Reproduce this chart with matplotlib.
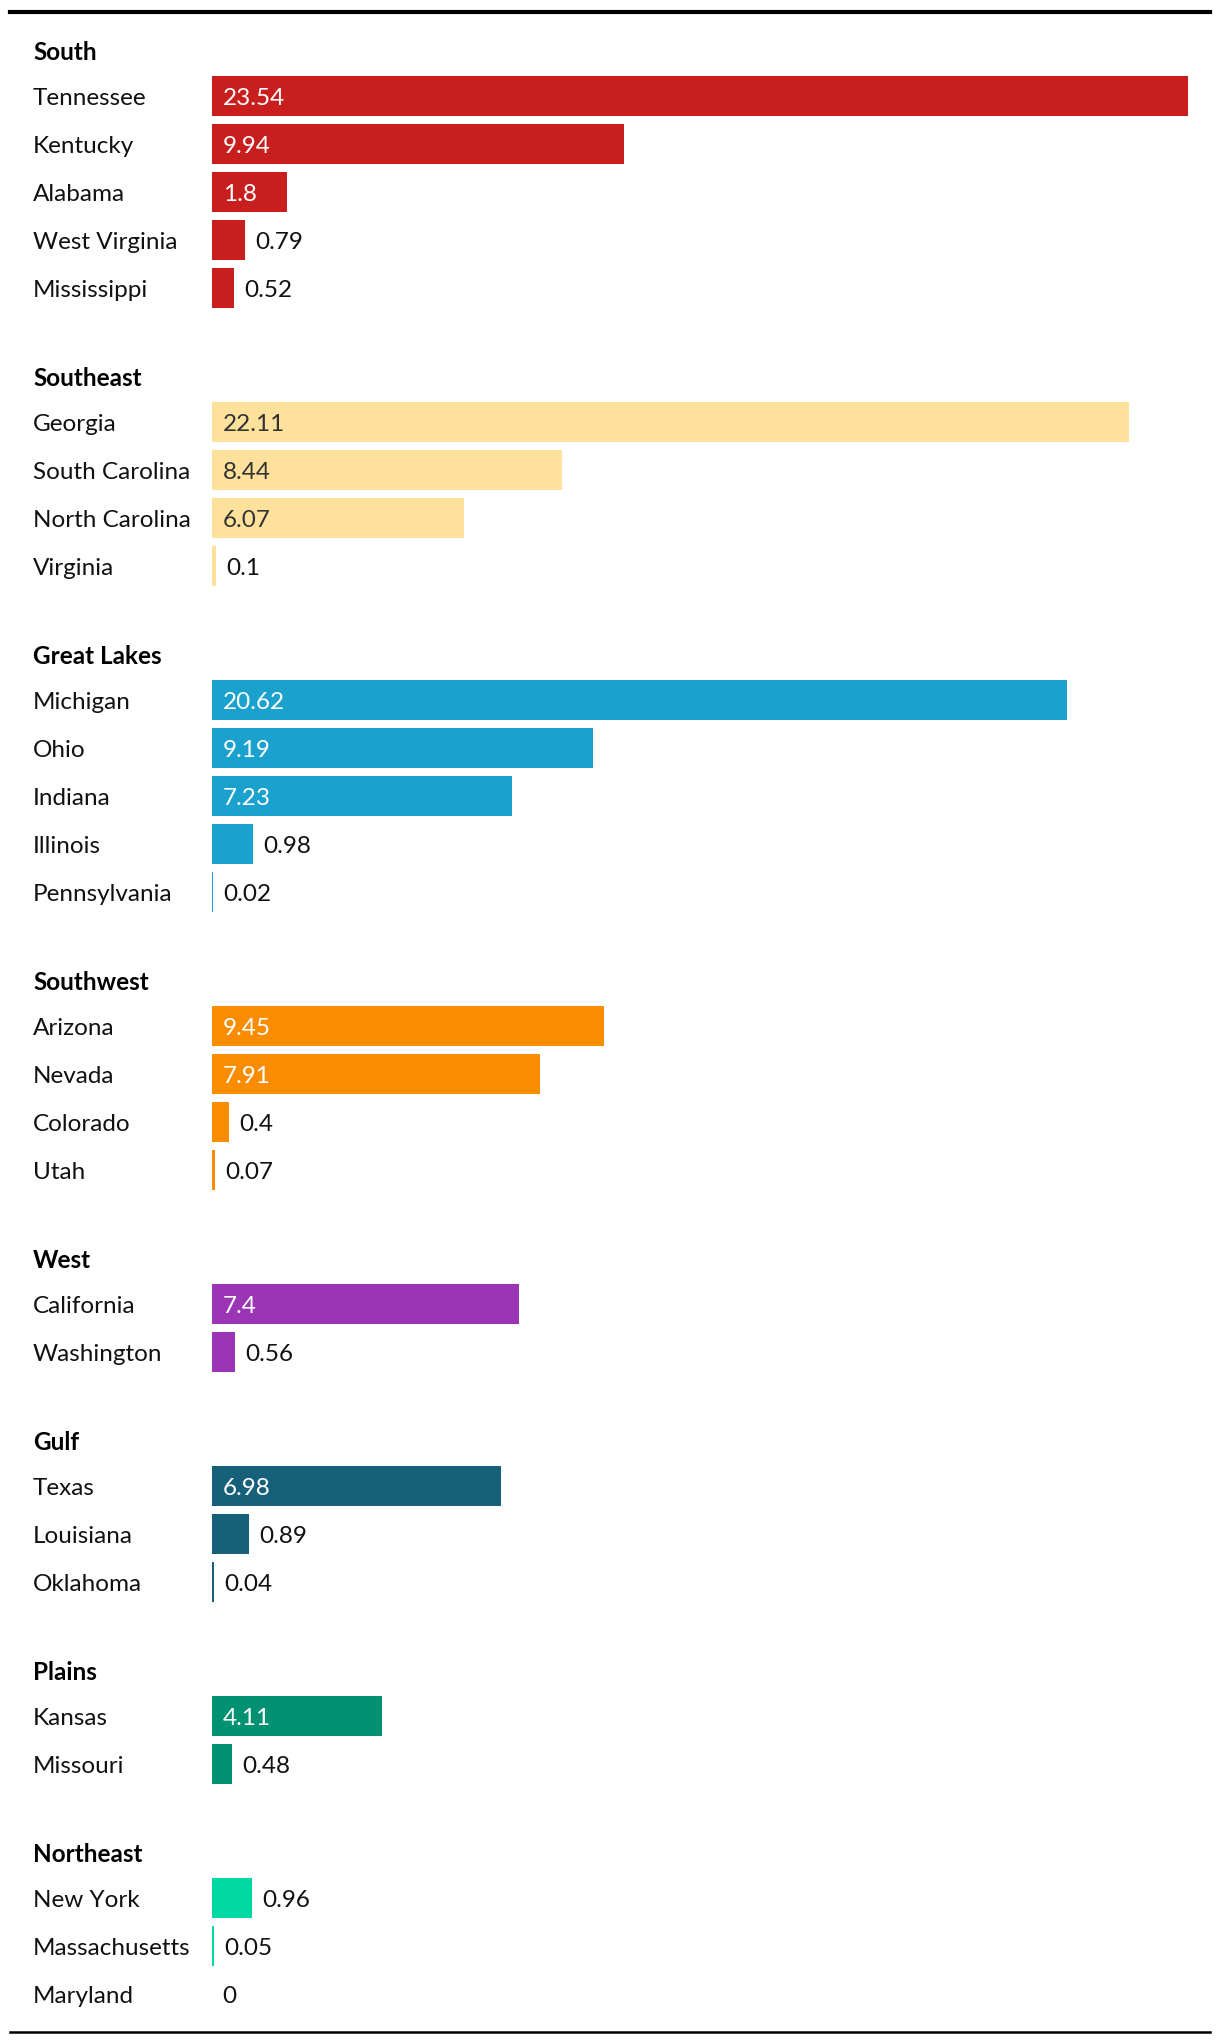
import matplotlib.pyplot as plt
import matplotlib as mpl
from matplotlib.lines import Line2D
from matplotlib.transforms import blended_transform_factory

mpl.rcParams['font.family'] = ['Lato', 'DejaVu Sans']

# data
regions = ['South', 'Southeast', 'Great Lakes', 'Southwest', 'West', 'Gulf', 'Plains', 'Northeast']
states = [
    ['Tennessee', 'Kentucky', 'Alabama', 'West Virginia', 'Mississippi'],
    ['Georgia', 'South Carolina', 'North Carolina', 'Virginia'],
    ['Michigan', 'Ohio', 'Indiana', 'Illinois', 'Pennsylvania'],
    ['Arizona', 'Nevada', 'Colorado', 'Utah'],
    ['California', 'Washington'],
    ['Texas', 'Louisiana', 'Oklahoma'],
    ['Kansas', 'Missouri'],
    ['New York', 'Massachusetts', 'Maryland'],
]
values = [
    [23.54, 9.94, 1.8, 0.79, 0.52],
    [22.11, 8.44, 6.07, 0.1],
    [20.62, 9.19, 7.23, 0.98, 0.02],
    [9.45, 7.91, 0.4, 0.07],
    [7.4, 0.56],
    [6.98, 0.89, 0.04],
    [4.11, 0.48],
    [0.96, 0.05, 0],
]
colors = ['#C81E1E', '#FEE29B', '#1AA1CE', '#F98C00', '#9B35B5', '#17607A', '#009072', '#00D9A4']
inside_text = ['white', '#333333', 'white', 'white', 'white', 'white', 'white', 'white']

W, H = 1220, 2044
fig = plt.figure(figsize=(W / 100, H / 100), dpi=100)
# bar area: x 212 -> 1188 px for max value
ax = fig.add_axes([212 / W, 0, 976 / W, 1])
ax.set_xlim(0, 23.54)
ax.set_ylim(H, 0)
ax.axis('off')

lab = blended_transform_factory(fig.transFigure, ax.transData)

fs = 17.5
dy = 2.5   # nudge text down a little so it sits centred on the bars
y = 50
for g, region in enumerate(regions):
    ax.text(33 / W, y + dy, region, transform=lab, fontsize=fs, fontweight='bold',
            va='center', ha='left', color='black')
    y += 46
    for name, v in zip(states[g], values[g]):
        ax.text(33 / W, y + dy, name, transform=lab, fontsize=fs, va='center', ha='left', color='#111111')
        ax.barh(y, v, height=40, color=colors[g], linewidth=0)
        # label inside or outside the bar
        if v > 1.5:
            ax.annotate(f'{v:g}', (0, y + dy), xytext=(8, 0), textcoords='offset points',
                        fontsize=fs, va='center', ha='left', color=inside_text[g])
        else:
            ax.annotate(f'{v:g}', (v, y + dy), xytext=(7.5, 0), textcoords='offset points',
                        fontsize=fs, va='center', ha='left', color='#111111')
        y += 48
    y += 88 - 48

# top and bottom rules
fig.add_artist(Line2D([10 / W, 1210 / W], [1 - 12 / H, 1 - 12 / H], color='black', lw=3, transform=fig.transFigure))
fig.add_artist(Line2D([10 / W, 1210 / W], [1 - 2032 / H, 1 - 2032 / H], color='black', lw=1.8, transform=fig.transFigure))

fig.savefig('out.png', dpi=100, facecolor='w')
